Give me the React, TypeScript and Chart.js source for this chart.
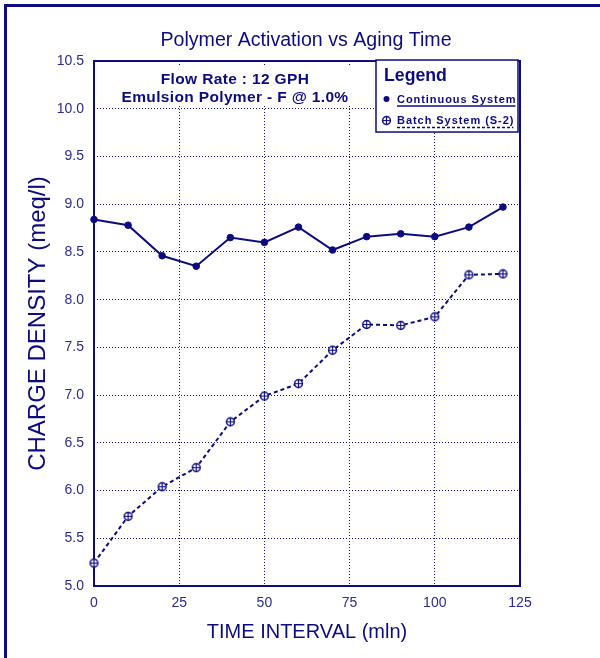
import React, { useEffect, useRef } from "react";
import { Chart, registerables } from "chart.js";

Chart.register(...registerables);

// ---- data ----
const timeMinutes = [0, 10, 20, 30, 40, 50, 60, 70, 80, 90, 100, 110, 120];
const continuousSystem = [8.84, 8.78, 8.46, 8.35, 8.65, 8.6, 8.76, 8.52, 8.66, 8.69, 8.66, 8.76, 8.97];
const batchSystem = [5.24, 5.73, 6.04, 6.24, 6.72, 6.99, 7.12, 7.47, 7.74, 7.73, 7.82, 8.26, 8.27];
const xTickValues = [0, 25, 50, 75, 100, 125];
const yTickValues = [5.0, 5.5, 6.0, 6.5, 7.0, 7.5, 8.0, 8.5, 9.0, 9.5, 10.0, 10.5];
const seriesLabels = ["Continuous System", "Batch System (S-2)"];
const annotationLines = ["Flow Rate : 12 GPH", "Emulsion Polymer - F @ 1.0%"];
const chartTitle = "Polymer Activation vs Aging Time";
const xAxisTitle = "TIME INTERVAL (mln)";
const yAxisTitle = "CHARGE DENSITY (meq/l)";
const legendTitle = "Legend";

const NAVY = "#0c0c80";
const TICK_COLOR = "#2a2a92";
const FONT = "'Liberation Sans', Arial, Helvetica, sans-serif";

function makeCircledPlus(): HTMLCanvasElement {
  const c = document.createElement("canvas");
  c.width = 11;
  c.height = 11;
  const g = c.getContext("2d")!;
  g.strokeStyle = NAVY;
  g.fillStyle = "#ffffff";
  g.lineWidth = 1.5;
  g.beginPath();
  g.arc(5.5, 5.5, 3.9, 0, Math.PI * 2);
  g.fill();
  g.stroke();
  g.lineWidth = 1.2;
  g.beginPath();
  g.moveTo(1.6, 5.5);
  g.lineTo(9.4, 5.5);
  g.moveTo(5.5, 1.6);
  g.lineTo(5.5, 9.4);
  g.stroke();
  return c;
}

function setSpacing(ctx: any, v: string) {
  if ("letterSpacing" in ctx) ctx.letterSpacing = v;
}

export default function App() {
  const canvasRef = useRef<HTMLCanvasElement | null>(null);

  useEffect(() => {
    if (!canvasRef.current) return;
    const circledPlus = makeCircledPlus();

    const decorPlugin = {
      id: "decor",
      beforeDraw(chart: any) {
        const { ctx, width, height } = chart;
        ctx.save();
        ctx.fillStyle = "#ffffff";
        ctx.fillRect(0, 0, width, height);
        ctx.fillStyle = NAVY;
        ctx.fillRect(4, 4, width - 4, 3);
        ctx.fillRect(4, 4, 3, height - 4);
        ctx.restore();
      },
      beforeDatasetsDraw(chart: any) {
        const { ctx, chartArea: a } = chart;
        ctx.save();
        // clear grid behind annotation text
        ctx.fillStyle = "#ffffff";
        ctx.fillRect(a.left + 8, a.top + 5, 272, 39);
        // plot frame
        ctx.strokeStyle = NAVY;
        ctx.lineWidth = 2;
        ctx.strokeRect(a.left, a.top, a.right - a.left, a.bottom - a.top);
        // annotation
        ctx.fillStyle = NAVY;
        ctx.font = `bold 15.5px ${FONT}`;
        setSpacing(ctx, "0.35px");
        ctx.textAlign = "center";
        ctx.textBaseline = "alphabetic";
        const cx = a.left + 141;
        ctx.fillText(annotationLines[0], cx, a.top + 23);
        ctx.fillText(annotationLines[1], cx, a.top + 40.5);
        ctx.restore();
      },
      afterDatasetsDraw(chart: any) {
        const { ctx, chartArea: a } = chart;
        const bx = a.right - 144;
        const by = a.top - 1;
        const bw = 142;
        const bh = 72;
        ctx.save();
        ctx.fillStyle = "#ffffff";
        ctx.fillRect(bx, by, bw, bh);
        ctx.strokeStyle = NAVY;
        ctx.lineWidth = 1.5;
        ctx.strokeRect(bx, by, bw, bh);

        ctx.fillStyle = NAVY;
        ctx.textAlign = "left";
        ctx.textBaseline = "alphabetic";
        ctx.font = `bold 17.7px ${FONT}`;
        setSpacing(ctx, "0px");
        ctx.fillText(legendTitle, bx + 8, by + 21);

        ctx.font = `bold 11px ${FONT}`;
        setSpacing(ctx, "0.95px");
        const tx = bx + 21;
        // item 1
        ctx.beginPath();
        ctx.arc(bx + 10.5, by + 39, 3, 0, Math.PI * 2);
        ctx.fill();
        ctx.fillText(chart.data.datasets[0].label, tx, by + 43);
        const w1 = ctx.measureText(chart.data.datasets[0].label).width;
        ctx.lineWidth = 1.4;
        ctx.beginPath();
        ctx.moveTo(tx, by + 46);
        ctx.lineTo(tx + w1 - 1, by + 46);
        ctx.stroke();
        // item 2
        ctx.drawImage(circledPlus, bx + 5, by + 55);
        ctx.fillText(chart.data.datasets[1].label, tx, by + 64);
        const w2 = ctx.measureText(chart.data.datasets[1].label).width;
        ctx.setLineDash([3, 2]);
        ctx.beginPath();
        ctx.moveTo(tx, by + 67.5);
        ctx.lineTo(tx + w2 - 1, by + 67.5);
        ctx.stroke();
        ctx.restore();
      },
    };

    const chart = new Chart(canvasRef.current, {
      type: "line",
      data: {
        datasets: [
          {
            label: seriesLabels[0],
            data: timeMinutes.map((t, i) => ({ x: t, y: continuousSystem[i] })),
            borderColor: NAVY,
            backgroundColor: NAVY,
            borderWidth: 2,
            pointRadius: 3.3,
            pointBorderWidth: 1,
            pointStyle: "circle",
            tension: 0,
            clip: false as any,
          },
          {
            label: seriesLabels[1],
            data: timeMinutes.map((t, i) => ({ x: t, y: batchSystem[i] })),
            borderColor: NAVY,
            backgroundColor: NAVY,
            borderWidth: 2,
            borderDash: [4, 3],
            pointStyle: circledPlus as any,
            pointRadius: 4,
            tension: 0,
            clip: false as any,
          },
        ],
      },
      options: {
        animation: false,
        responsive: false,
        devicePixelRatio: 1,
        layout: { padding: { left: 12, right: 0, top: 0, bottom: 0 } },
        plugins: {
          legend: { display: false },
          tooltip: { enabled: false },
          title: {
            display: true,
            text: chartTitle,
            color: NAVY,
            font: { family: FONT, size: 19.6, weight: "normal" as any, lineHeight: 1.2 },
            padding: { top: 28.6, bottom: 8.9 },
          },
        },
        scales: {
          x: {
            type: "linear",
            min: 0,
            max: 125,
            afterBuildTicks: (s: any) => {
              s.ticks = xTickValues.map((v) => ({ value: v }));
            },
            afterFit: (s: any) => {
              s.height = 72;
            },
            grid: { color: NAVY, lineWidth: 1, drawTicks: false },
            border: { display: false, dash: [1, 2] },
            ticks: {
              color: TICK_COLOR,
              padding: 9,
              font: { family: FONT, size: 14 },
              callback: (v: any) => String(v),
            },
            title: {
              display: true,
              text: xAxisTitle,
              color: NAVY,
              font: { family: FONT, size: 20, lineHeight: 1.2 },
              padding: { top: 4, bottom: 14 },
            },
          },
          y: {
            type: "linear",
            position: "left",
            min: 5,
            max: 10.5,
            afterBuildTicks: (s: any) => {
              s.ticks = yTickValues.map((v) => ({ value: v }));
            },
            afterFit: (s: any) => {
              s.width = 82;
            },
            grid: { color: NAVY, lineWidth: 1, drawTicks: false },
            border: { display: false, dash: [1, 2] },
            ticks: {
              color: TICK_COLOR,
              padding: 10,
              font: { family: FONT, size: 14 },
              callback: (v: any) => Number(v).toFixed(1),
            },
            title: {
              display: true,
              text: yAxisTitle,
              color: NAVY,
              font: { family: FONT, size: 24, lineHeight: 1.2 },
              padding: { top: 11.6, bottom: 4 },
            },
          },
          yRightSpace: {
            type: "linear",
            position: "right",
            min: 0,
            max: 1,
            afterFit: (s: any) => {
              s.width = 80;
            },
            grid: { display: false, drawOnChartArea: false, drawTicks: false },
            border: { display: false },
            ticks: { display: false },
          },
        },
      },
      plugins: [decorPlugin],
    });

    return () => {
      chart.destroy();
    };
  }, []);

  return (
    <div style={{ position: "absolute", left: 0, top: 0, width: 600, height: 658 }}>
      <canvas ref={canvasRef} width={600} height={658} style={{ width: 600, height: 658, display: "block" }} />
    </div>
  );
}
